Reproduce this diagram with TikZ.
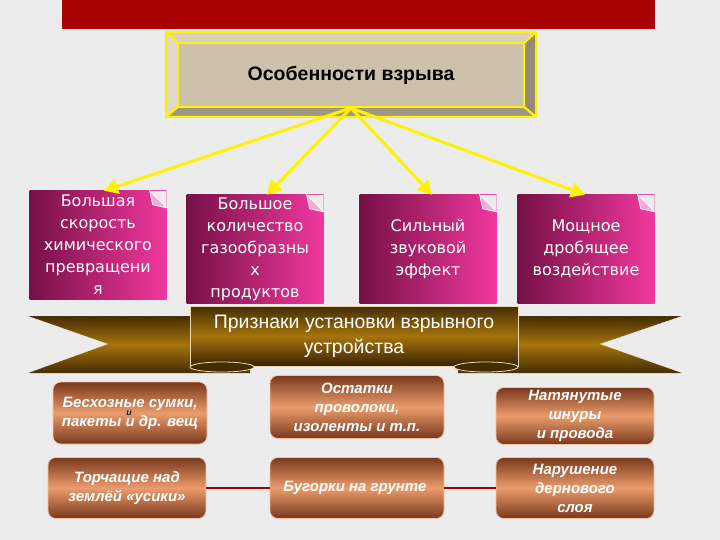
\documentclass[tikz,border=0pt]{standalone}
\usepackage{fontspec}
\setmainfont{Liberation Sans}
\newfontfamily\dejavu{DejaVu Sans}
\usepackage{tikz}
\usetikzlibrary{arrows.meta}
\definecolor{paper}{RGB}{236, 236, 236}
\definecolor{topbar}{RGB}{168, 2, 2}
\definecolor{face}{RGB}{205, 193, 172}
\definecolor{bevellight}{RGB}{218, 208, 192}
\definecolor{beveldark}{RGB}{150, 138, 118}
\definecolor{pinkdark}{RGB}{118, 16, 70}
\definecolor{pinklight}{RGB}{242, 56, 158}
\definecolor{pinkflap}{RGB}{246, 170, 214}
\definecolor{copperdark}{RGB}{122, 56, 28}
\definecolor{copperlight}{RGB}{234, 156, 108}
\definecolor{ribbondark}{RGB}{68, 44, 2}
\definecolor{ribbongold}{RGB}{166, 116, 12}
\definecolor{ribbonedge}{RGB}{232, 216, 180}
\definecolor{linkred}{RGB}{165, 0, 0}

\begin{document}
\begin{tikzpicture}[x=1pt, y=-1pt,
  pinkbox/.style={left color=pinkdark, right color=pinklight, text=white,
    minimum width=137, minimum height=108, inner sep=0, align=center,
    font=\dejavu\fontsize{16}{22}\selectfont},
  copperbox/.style={rounded corners=8pt, top color=copperdark, bottom color=copperdark,
    middle color=copperlight, draw=copperlight!60!white, line width=0.6pt,
    text=white, inner sep=0, align=center,
    font=\bfseries\itshape\fontsize{15}{19}\selectfont},
  feature/.style={draw=yellow, line width=3pt,
    -{Triangle[length=14pt, width=15pt]}},
  bevel/.style={draw=yellow, line width=2pt, line join=round}]

  \useasboundingbox [fill=paper] (0, 0) rectangle (720, 540);

  \fill [topbar] (62, 0) rectangle (655, 29);

  % title box with bevelled frame
  \filldraw [bevel, fill=bevellight] (166, 32) -- (536, 32) -- (524, 43) -- (178, 43) -- cycle;
  \filldraw [bevel, fill=bevellight!80!white] (166, 32) -- (178, 43) -- (178, 107) -- (166, 117) -- cycle;
  \filldraw [bevel, fill=beveldark] (536, 32) -- (536, 117) -- (524, 107) -- (524, 43) -- cycle;
  \filldraw [bevel, fill=beveldark!90!white] (166, 117) -- (178, 107) -- (524, 107) -- (536, 117) -- cycle;
  \node [draw=yellow, line width=2pt, fill=face, minimum width=346, minimum height=64,
         font=\bfseries\fontsize{19.5}{22}\selectfont] (title) at (351, 75) { Особенности взрыва };

  %
  \node [pinkbox] (speed) at (98, 245)
    { Большая\\скорость\\химического\\превращени\\я };
  \node [pinkbox] (gases) at (255, 249)
    { Большое\\количество\\газообразны\\х\\продуктов };
  \node [pinkbox] (sound) at (428, 249)
    { Сильный\\звуковой\\эффект };
  \node [pinkbox] (crush) at (586, 249)
    { Мощное\\дробящее\\воздействие };

  \foreach \card in {speed, gases, sound, crush} {
    \fill [paper] (\card.north east) -- ++(-17, 0) -- ++(17, 17) -- cycle;
    \filldraw [fill=pinkflap, draw=white, line width=0.8pt]
      (\card.north east) ++(-17, 0) -- ++(17, 17) -- ++(-14, -3) -- cycle;
  }

  \draw [feature] (title.south) -- ([xshift=6]speed.north);
  \draw [feature] (title.south) -- ([xshift=12]gases.north);
  \draw [feature] (title.south) -- ([xshift=4]sound.north);
  \draw [feature] (title.south) -- ([xshift=-1]crush.north);

  % ribbon
  \shade [top color=ribbondark, bottom color=ribbondark, middle color=ribbongold,
          draw=ribbonedge!70, line width=0.4pt, densely dotted]
    (28, 316) -- (250, 316) -- (250, 373) -- (28, 373) -- (108, 344) -- cycle;
  \shade [top color=ribbondark, bottom color=ribbondark, middle color=ribbongold,
          draw=ribbonedge!70, line width=0.4pt, densely dotted]
    (682, 316) -- (458, 316) -- (458, 373) -- (682, 373) -- (600, 344) -- cycle;
  \node [top color=ribbondark, bottom color=ribbondark!80!black, middle color=ribbongold,
         draw=ribbonedge, line width=0.8pt, minimum width=328, minimum height=60,
         inner sep=0, align=center, text=white, font=\fontsize{19.5}{25}\selectfont]
    (signs) at (354, 336) { Признаки установки взрывного\\устройства };
  \filldraw [fill=ribbondark, draw=ribbonedge, line width=0.8pt]
    (222, 367) ellipse [x radius=32, y radius=5];
  \filldraw [fill=ribbondark, draw=ribbonedge, line width=0.8pt]
    (486, 367) ellipse [x radius=32, y radius=5];

  %
  \node [copperbox, minimum width=154, minimum height=62] (bags) at (130, 413)
    { Бесхозные сумки,\\пакеты и др. вещ };
  \node [text=black!85, font=\bfseries\itshape\fontsize{9}{9}\selectfont, inner sep=0]
    (stray) at (129, 413) { и };
  \node [copperbox, minimum width=174, minimum height=63] (wires) at (357, 407)
    { Остатки\\проволоки,\\изоленты и т.п. };
  \node [copperbox, minimum width=158, minimum height=57] (cords) at (575, 416)
    { Натянутые\\шнуры\\и провода };

  \node [copperbox, minimum width=158, minimum height=61] (whisk) at (127, 488)
    { Торчащие над\\землёй «усики» };
  \node [copperbox, minimum width=174, minimum height=61] (mound) at (357, 488)
    { Бугорки на грунте };
  \node [copperbox, minimum width=158, minimum height=61] (turf) at (575, 488)
    { Нарушение\\дернового\\слоя };

  \draw [color=linkred, line width=1.8pt] (whisk) -- (mound);
  \draw [color=linkred, line width=1.8pt] (mound) -- (turf);

\end{tikzpicture}
\end{document}
